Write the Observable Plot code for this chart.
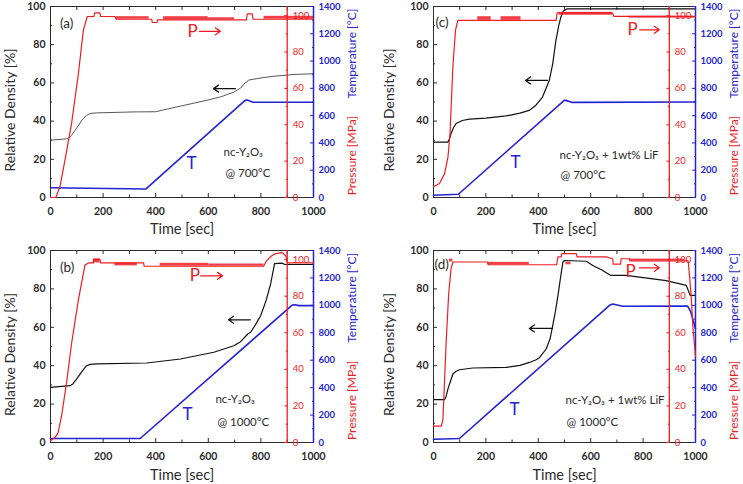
<!DOCTYPE html>
<html><head><meta charset="utf-8">
<script src="https://cdn.jsdelivr.net/npm/d3@7"></script>
<script src="https://cdn.jsdelivr.net/npm/@observablehq/plot@0.6"></script>
<style>
body{margin:0;background:#fff;}
#grid{position:relative;width:743px;height:484px;overflow:hidden;background:#fff;}
.panel{position:absolute;}
.panel svg{position:absolute;left:0;top:0;}
</style>
</head><body>
<div id="grid"></div>
<script>
// ---------- tick labels ----------
const densityTicks = [0, 20, 40, 60, 80, 100];
const densityMinor = [10, 30, 50, 70, 90];
const timeTicks = [0, 200, 400, 600, 800, 1000];
const timeMinor = [100, 300, 500, 700, 900];
const tempTicks = [0, 200, 400, 600, 800, 1000, 1200, 1400];
const tempMinor = [100, 300, 500, 700, 900, 1100, 1300];
const pressTicks = [0, 20, 40, 60, 80, 100];
const pressMinor = [10, 30, 50, 70, 90];

// ---------- text ----------
const panelLabels = ["(a)", "(b)", "(c)", "(d)"];
const sampleNames = ["nc-Y₂O₃", "nc-Y₂O₃", "nc-Y₂O₃ + 1wt% LiF", "nc-Y₂O₃ + 1wt% LiF"];
const conditions = ["@ 700°C", "@ 1000°C", "@ 700°C", "@ 1000°C"];
const densityTitle = "Relative Density [%]";
const timeTitle = "Time [sec]";
const tempTitle = "Temperature [°C]";
const pressTitle = "Pressure [MPa]";

// ---------- series: [time s, value] ----------
const densityA = [[0,30],[67,30.8],[80,32.5],[100,36.5],[120,40.5],[137,43],[150,44],[176,44.3],[315,44.8],[400,44.9],[450,46.5],[519,48.6],[595,50.9],[650,52.8],[697,55.2],[723,57.3],[740,60],[754,61.5],[800,62.6],[850,63.5],[926,64.4],[1000,64.8]];
const tempA = [[0,72],[362,62],[740,712],[748,714],[770,698],[1000,698]];
const pressureA = [[0,0],[20,0],[36,6],[55,20.5],[80,40.6],[106,68],[125,92],[140,99.5],[165,99.5],[168,101.5],[188,101.5],[190,99.5],[245,99.5],[250,98],[385,98],[387,96.2],[405,96.2],[407,97.6],[745,97.6],[748,101],[767,101],[770,98],[1000,98]];
const noiseA = [[250,375,98,99.4],[430,600,97.6,99.4],[600,700,97.6,98.8],[812,1000,98,99.6]];

const densityB = [[0,28.7],[74,29.6],[85,30.5],[99,33],[120,37],[137,40],[150,40.7],[176,40.9],[366,41.4],[494,43.5],[621,47],[697,50.4],[723,52.5],[750,56.5],[761,57.4],[780,61.5],[799,66],[820,74],[837,82.6],[852,93.2],[880,93.4],[890,92.8],[1000,92.7]];
const tempB = [[0,29],[341,29],[920,1003],[930,1004],[945,998],[1000,998]];
const pressureB = [[0,1],[17,2.7],[29,5.4],[42,14.5],[61,32.6],[80,54],[106,78],[131,97],[144,98.2],[163,98.2],[165,100.2],[188,100.2],[190,98.2],[354,98.2],[356,96.4],[810,96.4],[820,99],[835,101.4],[850,103],[880,104],[895,102],[900,98.2],[1000,98.2]];
const noiseB = [[163,188,98.2,100.4],[245,330,96.6,98.2],[417,602,96.4,98],[602,812,96.4,97.6]];

const densityC = [[0,29],[55,29],[62,31],[67,33.4],[76,36.5],[86,38.7],[110,40.3],[137,41],[200,41.6],[277,42.7],[330,44.2],[365,45.6],[391,48.3],[416,52.6],[442,61.3],[455,70],[467,82],[478,90],[486,94.4],[495,97.5],[510,98.8],[1000,98.8]];
const tempC = [[0,17],[95,24],[499,712],[505,712],[530,697],[1000,700]];
const pressureC = [[0,5.9],[23,7.7],[42,13],[55,22],[63,35],[74,72],[84,92],[93,97.4],[468,97.4],[472,101.5],[683,101.5],[688,99.6],[1000,99.6]];
const noiseC = [[169,220,97.4,99.4],[258,334,97.4,99.4],[480,683,100.2,101.8],[746,1000,98.6,99.6]];

const densityD = [[0,22.3],[42,22.3],[48,24],[55,27.8],[65,32],[74,35.7],[85,37],[99,37.9],[150,38.8],[277,39.1],[330,40.2],[366,41.7],[390,43],[405,44.3],[430,48.7],[445,54],[455,60.9],[465,68],[475,76.5],[485,86],[494,94],[500,94.8],[583,94.4],[608,92.2],[646,89.6],[670,87.5],[678,87],[735,87],[888,84.3],[965,81.8],[980,76.6],[1000,76.6]];
const tempD = [[0,24],[99,29],[674,1003],[684,1010],[722,993],[970,995],[980,960],[990,900],[1000,830]];
const pressureD = [[0,9],[30,9],[36,12.7],[48,54],[58,81.5],[67,95],[74,98.7],[207,98.7],[209,97.2],[470,97.2],[475,101.5],[487,101.5],[490,103.3],[545,103.3],[548,101.5],[659,101.5],[684,100.5],[686,97.5],[714,97.5],[716,100.5],[748,100.5],[750,99.3],[972,99.3],[983,81.5],[990,63.4],[1000,47]];
const noiseD = [[61,74,98.7,100.3],[207,366,97.2,98.5],[505,525,97.2,98.5],[748,960,99.3,100.3]];

// ---------- layout / styling ----------
const RED = "#ee1d24";
const BLUE = "#2323d2";
const INK = "#2b2b2b";
const FONT = "Lato, 'Open Sans', sans-serif";

const panels = [
  {left:0, top:0, w:372, h:242, mL:50, mR:59, mT:6, mB:45, i:0, density:densityA, temp:tempA, pressure:pressureA, noise:noiseA, dStroke:"#444", dWidth:0.9,
   pos:{label:[36,91], P:[540,87], pArrow:[566,646,87], back:[703,620,57], T:[536,17.8], sample:[658,23.5], cond:[665,12.5]}, titleDx:-40, timeDy:31.5},
  {left:0, top:242, w:372, h:242, mL:50, mR:59, mT:8, mB:42, i:1, density:densityB, temp:tempB, pressure:pressureB, noise:noiseB, dStroke:"#111", dWidth:1.2,
   pos:{label:[36,91], P:[549,86.8], pArrow:[570,654,86.8], back:[760,677,63.9], T:[521,14.7], sample:[627,22.4], cond:[635,10.4]}, titleDx:-40, timeDy:33},
  {left:372, top:0, w:371, h:242, mL:61, mR:48, mT:6, mB:45, i:2, density:densityC, temp:tempC, pressure:pressureC, noise:noiseC, dStroke:"#111", dWidth:1.2,
   pos:{label:[8,91.6], P:[760,87.8], pArrow:[787,862,87.8], back:[435,351,61.3], T:[313,18.3], sample:[481,22], cond:[485,11.5]}, titleDx:-44, timeDy:31.5},
  {left:372, top:242, w:371, h:242, mL:61, mR:48, mT:8, mB:42, i:3, density:densityD, temp:tempD, pressure:pressureD, noise:noiseD, dStroke:"#111", dWidth:1.2,
   pos:{label:[4,92.7], P:[752,89], pArrow:[786,862,91], back:[454,366,59.4], T:[309,17], sample:[504,21.9], cond:[508,10.4]}, titleDx:-44, timeDy:33}
];

const X = d => d[0], Y = d => d[1];
const blank = () => "";
const plain = d => String(d);

function makePanel(c) {
  const div = document.createElement("div");
  div.className = "panel";
  div.style.left = c.left + "px"; div.style.top = c.top + "px";
  div.style.width = c.w + "px"; div.style.height = c.h + "px";
  const base = {width:c.w, height:c.h, marginLeft:c.mL, marginRight:c.mR, marginTop:c.mT, marginBottom:c.mB,
    style:{fontFamily:FONT, background:"transparent", overflow:"visible"}};
  const p = c.pos;

  const main = Plot.plot({
    ...base,
    x:{domain:[0,1000], axis:null},
    y:{domain:[0,100], axis:null},
    marks:[
      Plot.frame({stroke:INK, strokeWidth:1}),
      Plot.axisY(densityMinor, {anchor:"left", tickSize:-2, tickFormat:blank, stroke:INK, label:null}),
      Plot.axisY(densityTicks, {anchor:"left", tickSize:-4, tickPadding:9, tickFormat:plain, fontSize:10.5, fontWeight:"bold", fill:INK, stroke:INK, label:null}),
      Plot.axisX(timeMinor, {anchor:"bottom", tickSize:-2.5, tickFormat:blank, stroke:INK, label:null}),
      Plot.axisX(timeTicks, {anchor:"bottom", tickSize:-4, tickPadding:14, tickFormat:plain, fontSize:10.5, fontWeight:"bold", fill:INK, stroke:INK, label:null}),
      Plot.axisX(timeMinor.concat(timeTicks.slice(1,-1)), {anchor:"top", tickSize:-3, tickFormat:blank, stroke:INK, label:null}),
      Plot.text([densityTitle], {frameAnchor:"left", textAnchor:"middle", lineAnchor:"middle", dx:c.titleDx, dy:8, rotate:-90, fontSize:14, fill:INK}),
      Plot.text([timeTitle], {frameAnchor:"bottom", textAnchor:"middle", lineAnchor:"middle", dy:c.timeDy, fontSize:14.5, fill:INK}),
      Plot.line(c.density, {x:X, y:Y, stroke:c.dStroke, strokeWidth:c.dWidth}),
      Plot.text([panelLabels[c.i]], {x:p.label[0], y:p.label[1], textAnchor:"start", fontSize:13.5, fill:INK}),
      Plot.text(["P"], {x:p.P[0], y:p.P[1], fontSize:17, fill:RED}),
      Plot.arrow([p.pArrow], {x1:d=>d[0], x2:d=>d[1], y1:d=>d[2], y2:d=>d[2], stroke:RED, strokeWidth:1.3, headLength:7, headAngle:70}),
      Plot.arrow([p.back], {x1:d=>d[0], x2:d=>d[1], y1:d=>d[2], y2:d=>d[2], stroke:"#111", strokeWidth:1.3, headLength:7, headAngle:70}),
      Plot.text(["T"], {x:p.T[0], y:p.T[1], fontSize:17, fill:BLUE}),
      Plot.text([sampleNames[c.i]], {x:p.sample[0], y:p.sample[1], textAnchor:"start", fontSize:11.5, fill:INK}),
      Plot.text([conditions[c.i]], {x:p.cond[0], y:p.cond[1], textAnchor:"start", fontSize:11.5, fill:INK})
    ]
  });

  const temp = Plot.plot({
    ...base,
    x:{domain:[0,1000], axis:null},
    y:{domain:[0,1400], axis:null},
    marks:[
      Plot.axisY(tempMinor, {anchor:"right", tickSize:-2, tickFormat:blank, stroke:BLUE, label:null}),
      Plot.axisY(tempTicks, {anchor:"right", tickSize:-4, tickPadding:9, tickFormat:plain, fontSize:9.5, fontWeight:"bold", fill:BLUE, stroke:BLUE, label:null}),
      Plot.ruleX([1000], {stroke:BLUE, strokeWidth:1.5}),
      Plot.line(c.temp, {x:X, y:Y, stroke:BLUE, strokeWidth:1.6}),
      Plot.text([tempTitle], {x:1000, y:1055, dx:39, rotate:-90, fontSize:12, fill:BLUE})
    ]
  });

  const plotW = c.w - c.mL - c.mR;
  const press = Plot.plot({
    ...base,
    marginRight: c.mR + 0.1 * plotW,
    x:{domain:[0,900], axis:null},
    y:{domain:[0,105], axis:null},
    marks:[
      Plot.ruleX([900], {stroke:RED, strokeWidth:1.3}),
      Plot.axisY(pressMinor, {anchor:"right", tickSize:-2, tickFormat:blank, stroke:RED, label:null}),
      Plot.axisY(pressTicks, {anchor:"right", tickSize:-3.5, tickPadding:9, tickFormat:plain, fontSize:9.5, fill:RED, stroke:RED, label:null}),
      Plot.rect(c.noise, {x1:d=>d[0], x2:d=>d[1], y1:d=>d[2], y2:d=>d[3], fill:RED, fillOpacity:0.85}),
      Plot.line(c.pressure, {x:X, y:Y, stroke:RED, strokeWidth:1.2}),
      Plot.text([pressTitle], {x:1000, y:23, dx:39, rotate:-90, fontSize:12, fill:RED})
    ]
  });

  div.append(main, temp, press);
  return div;
}

const grid = document.getElementById("grid");
for (const c of panels) grid.append(makePanel(c));
</script>
</body></html>
